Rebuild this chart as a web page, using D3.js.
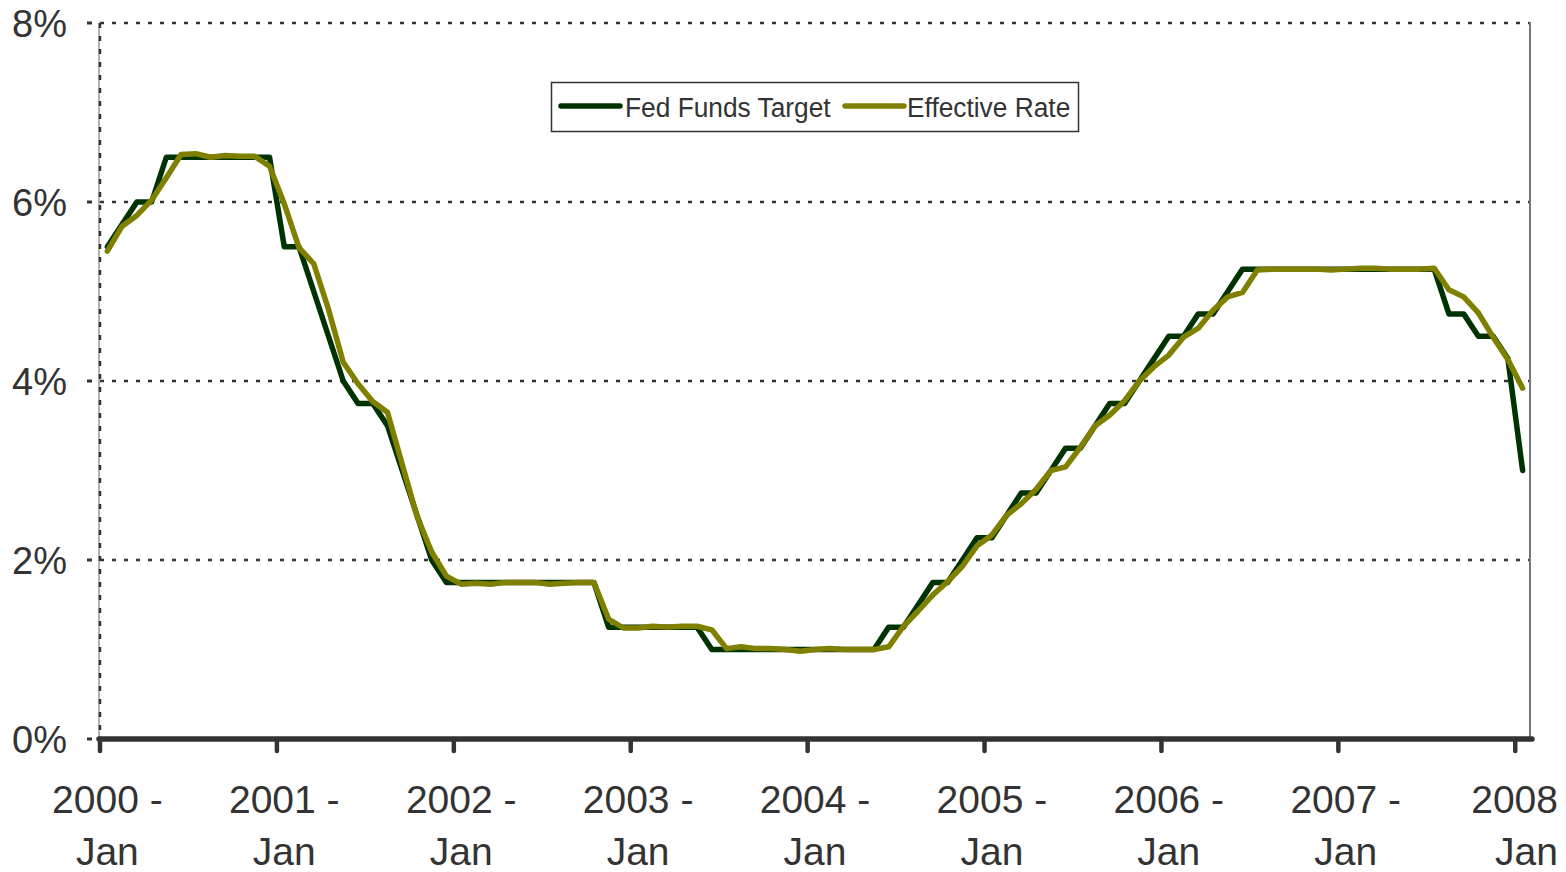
<!DOCTYPE html>
<html>
<head>
<meta charset="utf-8">
<script src="https://cdn.jsdelivr.net/npm/d3@7/dist/d3.min.js"></script>
<style>
  html, body { margin: 0; padding: 0; background: #fff; }
  svg { display: block; }
  text { font-family: "Liberation Sans", Arial, sans-serif; fill: #333; }
</style>
</head>
<body>
<svg id="chart" width="1566" height="872"></svg>
<script>
// Monthly categories, Jan 2000 through Jan 2008
const years = [2000, 2001, 2002, 2003, 2004, 2005, 2006, 2007, 2008];
const monthNames = ["Jan","Feb","Mar","Apr","May","Jun","Jul","Aug","Sep","Oct","Nov","Dec"];
const months = [];
years.forEach(yr => monthNames.forEach(m => {
  if (yr < 2008 || m === "Jan") months.push(yr + " - " + m);
}));

// Fed funds target rate (%), end of month
const fedFundsTarget = [
  5.50, 5.75, 6.00, 6.00, 6.50, 6.50, 6.50, 6.50, 6.50, 6.50, 6.50, 6.50, // 2000
  5.50, 5.50, 5.00, 4.50, 4.00, 3.75, 3.75, 3.50, 3.00, 2.50, 2.00, 1.75, // 2001
  1.75, 1.75, 1.75, 1.75, 1.75, 1.75, 1.75, 1.75, 1.75, 1.75, 1.25, 1.25, // 2002
  1.25, 1.25, 1.25, 1.25, 1.25, 1.00, 1.00, 1.00, 1.00, 1.00, 1.00, 1.00, // 2003
  1.00, 1.00, 1.00, 1.00, 1.00, 1.25, 1.25, 1.50, 1.75, 1.75, 2.00, 2.25, // 2004
  2.25, 2.50, 2.75, 2.75, 3.00, 3.25, 3.25, 3.50, 3.75, 3.75, 4.00, 4.25, // 2005
  4.50, 4.50, 4.75, 4.75, 5.00, 5.25, 5.25, 5.25, 5.25, 5.25, 5.25, 5.25, // 2006
  5.25, 5.25, 5.25, 5.25, 5.25, 5.25, 5.25, 4.75, 4.75, 4.50, 4.50, 4.25, // 2007
  3.00                                                                    // 2008
];

// Effective federal funds rate (%), monthly average
const effectiveRate = [
  5.45, 5.73, 5.85, 6.02, 6.27, 6.53, 6.54, 6.50, 6.52, 6.51, 6.51, 6.40, // 2000
  5.98, 5.49, 5.31, 4.80, 4.21, 3.97, 3.77, 3.65, 3.07, 2.49, 2.09, 1.82, // 2001
  1.73, 1.74, 1.73, 1.75, 1.75, 1.75, 1.73, 1.74, 1.75, 1.75, 1.34, 1.24, // 2002
  1.24, 1.26, 1.25, 1.26, 1.26, 1.22, 1.01, 1.03, 1.01, 1.01, 1.00, 0.98, // 2003
  1.00, 1.01, 1.00, 1.00, 1.00, 1.03, 1.26, 1.43, 1.61, 1.76, 1.93, 2.16, // 2004
  2.28, 2.50, 2.63, 2.79, 3.00, 3.04, 3.26, 3.50, 3.62, 3.78, 4.00, 4.16, // 2005
  4.29, 4.49, 4.59, 4.79, 4.94, 4.99, 5.24, 5.25, 5.25, 5.25, 5.25, 5.24, // 2006
  5.25, 5.26, 5.26, 5.25, 5.25, 5.25, 5.26, 5.02, 4.94, 4.76, 4.49, 4.24, // 2007
  3.92                                                                    // 2008
];

const yTicks = [0, 2, 4, 6, 8];
const xTickYears = ["2000 -", "2001 -", "2002 -", "2003 -", "2004 -", "2005 -", "2006 -", "2007 -", "2008"];
const xTickMonth = "Jan";
const seriesNames = ["Fed Funds Target", "Effective Rate"];
const seriesColors = ["#003300", "#808000"];

const svg = d3.select("#chart");
const plotLeft = 100, plotRight = 1530, plotTop = 23, plotBottom = 739;

const x = d3.scaleBand().domain(months).range([plotLeft, plotRight]).padding(0);
const y = d3.scaleLinear().domain([0, 8]).range([plotBottom, plotTop]);
const cx = d => x(d) + x.bandwidth() / 2;

// Horizontal dotted gridlines
svg.append("g").selectAll("line")
  .data(yTicks.filter(v => v > 0))
  .join("line")
  .attr("x1", plotLeft).attr("x2", plotRight)
  .attr("y1", d => y(d)).attr("y2", d => y(d))
  .attr("stroke", "#333").attr("stroke-width", 2.5)
  .attr("stroke-dasharray", "4,8");

// Left axis line (grey with dotted overlay) and right border
svg.append("line")
  .attr("x1", plotLeft - 1).attr("x2", plotLeft - 1).attr("y1", plotTop).attr("y2", plotBottom)
  .attr("stroke", "#999").attr("stroke-width", 1.5);
svg.append("line")
  .attr("x1", plotLeft).attr("x2", plotLeft).attr("y1", plotTop).attr("y2", plotBottom)
  .attr("stroke", "#333").attr("stroke-width", 2.5).attr("stroke-dasharray", "5,8");
svg.append("line")
  .attr("x1", plotRight).attr("x2", plotRight).attr("y1", plotTop - 1).attr("y2", plotBottom)
  .attr("stroke", "#777").attr("stroke-width", 2);

// Y tick marks and labels
const yAxis = svg.append("g");
yAxis.selectAll("line")
  .data(yTicks).join("line")
  .attr("x1", 87).attr("x2", 92)
  .attr("y1", d => y(d)).attr("y2", d => y(d))
  .attr("stroke", "#333").attr("stroke-width", 3);
yAxis.selectAll("text")
  .data(yTicks).join("text")
  .attr("x", 67).attr("y", d => y(d) + 1)
  .attr("text-anchor", "end").attr("dominant-baseline", "central")
  .attr("font-size", 38)
  .text(d => d + "%");

// Series lines
const line = d3.line().x((d, i) => cx(months[i])).y(d => y(d)).curve(d3.curveLinear);
[fedFundsTarget, effectiveRate].forEach((vals, k) => {
  svg.append("path")
    .datum(vals)
    .attr("d", line)
    .attr("fill", "none")
    .attr("stroke", seriesColors[k])
    .attr("stroke-width", 5.5)
    .attr("stroke-linejoin", "round")
    .attr("stroke-linecap", "round");
});

// Bottom axis: thick baseline with year ticks
const tickIdx = months.map((m, i) => i).filter(i => i % 12 === 0);
const xAxis = svg.append("g");
xAxis.append("line")
  .attr("x1", plotLeft - 1).attr("x2", plotRight + 2).attr("y1", plotBottom).attr("y2", plotBottom)
  .attr("stroke", "#333").attr("stroke-width", 5.5).attr("stroke-linecap", "round");
xAxis.selectAll("line.tick")
  .data(tickIdx).join("line").attr("class", "tick")
  .attr("x1", i => x(months[i])).attr("x2", i => x(months[i]))
  .attr("y1", plotBottom).attr("y2", plotBottom + 12)
  .attr("stroke", "#333").attr("stroke-width", 4.5).attr("stroke-linecap", "round");

const labels = xAxis.selectAll("g.lbl")
  .data(tickIdx).join("g").attr("class", "lbl");
labels.each(function(i, k) {
  const last = k === tickIdx.length - 1;
  const g = d3.select(this);
  const px = last ? 1558 : cx(months[i]);
  const anchor = last ? "end" : "middle";
  g.append("text").attr("x", px).attr("y", 813)
    .attr("text-anchor", anchor).attr("font-size", 39).text(xTickYears[k]);
  g.append("text").attr("x", px).attr("y", 865)
    .attr("text-anchor", anchor).attr("font-size", 39).text(xTickMonth);
});

// Legend
const legend = svg.append("g");
legend.append("rect")
  .attr("x", 551.5).attr("y", 82.5).attr("width", 527).attr("height", 49)
  .attr("fill", "#fff").attr("stroke", "#333").attr("stroke-width", 1.5);
const legendItems = [
  { lx: 561, tx: 625 },
  { lx: 845, tx: 907 }
];
legendItems.forEach((it, k) => {
  legend.append("line")
    .attr("x1", it.lx).attr("x2", it.lx + 59).attr("y1", 106).attr("y2", 106)
    .attr("stroke", seriesColors[k]).attr("stroke-width", 5.5).attr("stroke-linecap", "round");
  legend.append("text")
    .attr("transform", `translate(${it.tx},116.5) scale(0.94,1)`)
    .attr("font-size", 28)
    .text(seriesNames[k]);
});
</script>
</body>
</html>
